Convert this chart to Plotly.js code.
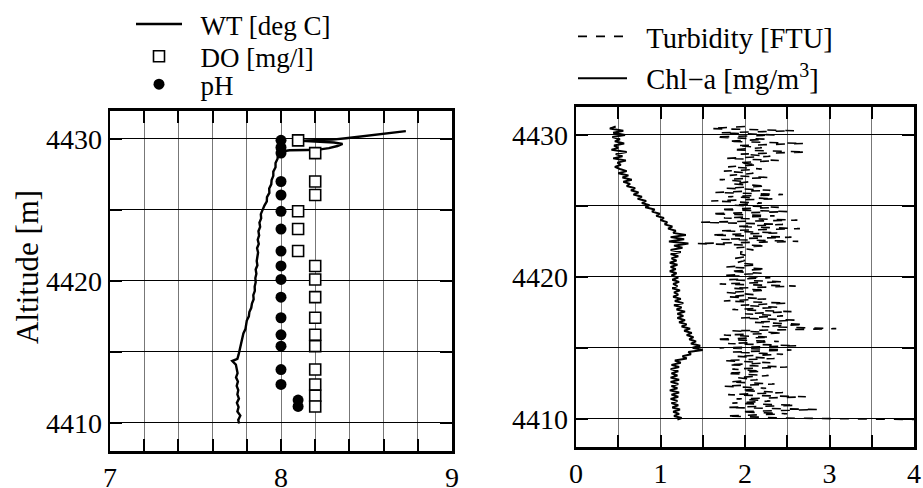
<!DOCTYPE html>
<html>
<head>
<meta charset="utf-8">
<script src="https://cdn.plot.ly/plotly-3.0.1.min.js"></script>
<style>html,body{margin:0;padding:0;background:#fff;}#chart{width:923px;height:488px;}</style>
</head>
<body>
<div id="chart"></div>
<script>
// ---------- Left panel data ----------
const wtAlt = [4409.95,4410.2,4410.5,4410.8,4411.1,4411.4,4411.7,4412.0,4412.3,4412.6,
  4412.9,4413.2,4413.5,4413.8,4414.1,4414.35,4414.5,4414.8,4415.1,4415.4,
  4415.7,4416.0,4416.3,4416.6,4416.9,4417.2,4417.5,4417.8,4418.1,4418.4,
  4418.7,4419.0,4419.3,4419.6,4419.9,4420.2,4420.5,4420.8,4421.1,4421.4,
  4421.7,4422.0,4422.3,4422.6,4422.9,4423.2,4423.5,4423.8,4424.1,4424.4,
  4424.7,4425.0,4425.3,4425.6,4425.9,4426.2,4426.5,4426.8,4427.1,4427.4,
  4427.7,4428.0,4428.3,4428.6,4428.9,4429.1,4429.2,4429.22,4429.25,4429.35,
  4429.5,4429.65,4429.75,4429.82,4429.86,4429.9,4429.95,4430.05,4430.2,4430.35,
  4430.5,4430.55];
const wtTemp = [7.755,7.75,7.762,7.745,7.752,7.742,7.754,7.745,7.75,7.741,
  7.748,7.737,7.746,7.74,7.736,7.715,7.745,7.752,7.758,7.766,
  7.77,7.776,7.78,7.792,7.795,7.80,7.812,7.815,7.826,7.83,
  7.84,7.838,7.847,7.846,7.852,7.85,7.856,7.852,7.862,7.858,
  7.862,7.866,7.86,7.870,7.864,7.872,7.868,7.878,7.874,7.884,
  7.882,7.892,7.903,7.917,7.918,7.932,7.931,7.943,7.945,7.955,
  7.955,7.968,7.968,7.98,7.982,7.995,8.05,8.15,8.22,8.28,
  8.33,8.36,8.31,8.2,8.12,8.15,8.3,8.38,8.48,8.58,
  8.68,8.73];
const doAlt = [4429.9,4429.0,4427.0,4426.05,4424.9,4423.65,4422.1,4421.05,4420.1,4418.85,4417.4,4416.2,4415.4,4413.75,4412.7,4411.9,4411.15];
const doVal = [8.1,8.2,8.2,8.2,8.1,8.1,8.1,8.2,8.2,8.2,8.2,8.2,8.2,8.2,8.2,8.2,8.2];
const phAlt = [4429.9,4429.4,4429.0,4427.0,4426.05,4424.9,4423.65,4422.1,4421.05,4420.1,4418.85,4417.4,4416.2,4415.4,4413.75,4412.7,4411.6,4411.15];
const phVal = [8.0,8.0,8.0,8.0,8.0,8.0,8.0,8.0,8.0,8.0,8.0,8.0,8.0,8.0,8.0,8.0,8.1,8.1];

// ---------- Right panel data ----------
const profAlt = [
  4430.60,4430.45,4430.30,4430.15,4430.00,4429.85,4429.70,4429.55,4429.40,4429.25,
  4429.10,4428.95,4428.80,4428.65,4428.50,4428.35,4428.20,4428.05,4427.90,4427.75,
  4427.60,4427.45,4427.30,4427.15,4427.00,4426.85,4426.70,4426.55,4426.40,4426.25,
  4426.10,4425.95,4425.80,4425.65,4425.50,4425.35,4425.20,4425.05,4424.90,4424.75,
  4424.60,4424.45,4424.30,4424.15,4424.00,4423.85,4423.70,4423.55,4423.40,4423.25,
  4423.10,4422.95,4422.80,4422.65,4422.50,4422.35,4422.20,4422.05,4421.90,4421.75,
  4421.60,4421.45,4421.30,4421.15,4421.00,4420.85,4420.70,4420.55,4420.40,4420.25,
  4420.10,4419.95,4419.80,4419.65,4419.50,4419.35,4419.20,4419.05,4418.90,4418.75,
  4418.60,4418.45,4418.30,4418.15,4418.00,4417.85,4417.70,4417.55,4417.40,4417.25,
  4417.10,4416.95,4416.80,4416.65,4416.50,4416.35,4416.20,4416.05,4415.90,4415.75,
  4415.60,4415.45,4415.30,4415.15,4415.00,4414.85,4414.70,4414.55,4414.40,4414.25,
  4414.10,4413.95,4413.80,4413.65,4413.50,4413.35,4413.20,4413.05,4412.90,4412.75,
  4412.60,4412.45,4412.30,4412.15,4412.00,4411.85,4411.70,4411.55,4411.40,4411.25,
  4411.10,4410.95,4410.80,4410.65,4410.50,4410.35,4410.20,4410.05,4409.95];
const chlVal = [
  0.47,0.40,0.56,0.44,0.58,0.43,0.52,0.46,0.57,0.45,
  0.50,0.42,0.60,0.47,0.55,0.44,0.59,0.49,0.53,0.46,
  0.52,0.60,0.50,0.62,0.55,0.66,0.56,0.64,0.60,0.70,
  0.65,0.74,0.68,0.78,0.73,0.83,0.78,0.87,0.82,0.93,
  0.90,0.99,0.95,1.04,1.00,1.08,1.05,1.14,1.09,1.18,
  1.15,1.30,1.12,1.28,1.10,1.33,1.16,1.26,1.12,1.24,
  1.12,1.21,1.13,1.19,1.11,1.20,1.12,1.18,1.11,1.19,
  1.13,1.21,1.14,1.22,1.15,1.20,1.14,1.23,1.16,1.21,
  1.15,1.24,1.17,1.27,1.16,1.25,1.19,1.29,1.20,1.27,
  1.20,1.29,1.22,1.31,1.25,1.35,1.28,1.37,1.31,1.39,
  1.34,1.42,1.36,1.47,1.38,1.50,1.33,1.36,1.26,1.31,
  1.17,1.24,1.13,1.22,1.12,1.21,1.13,1.20,1.12,1.22,
  1.12,1.21,1.13,1.20,1.11,1.22,1.13,1.21,1.12,1.20,
  1.13,1.21,1.14,1.23,1.15,1.22,1.16,1.25,1.20];
const turbVal = [
  2.00,1.60,2.58,1.72,2.35,1.65,2.25,1.80,2.70,1.90,
  2.20,1.85,2.72,1.95,2.30,1.78,2.40,1.92,2.15,1.80,
  2.20,1.75,2.10,1.82,2.28,1.70,2.05,1.85,2.25,1.78,
  2.30,1.65,2.45,1.80,2.35,1.60,2.20,1.85,2.40,1.70,
  2.50,1.60,2.35,1.75,2.62,1.48,2.45,1.90,2.65,1.70,
  2.40,1.60,2.55,1.72,2.63,1.43,2.25,1.90,2.10,1.95,
  1.95,2.05,1.88,2.00,1.90,2.15,1.78,2.25,1.82,2.20,
  1.75,2.30,1.80,2.45,1.70,2.60,1.85,2.25,1.78,2.10,
  1.80,2.25,1.75,2.50,1.95,2.40,1.85,2.55,2.00,2.45,
  1.95,2.60,2.10,2.70,2.20,3.08,1.85,2.45,1.75,2.30,
  1.65,2.40,1.80,2.62,1.70,2.55,1.85,2.45,1.90,2.35,
  1.75,2.30,1.80,2.50,1.85,2.20,1.78,2.28,1.90,2.15,
  1.82,2.35,1.75,2.25,1.95,2.45,1.80,2.72,1.90,2.30,
  1.85,2.60,1.80,2.85,1.95,2.50,1.78,2.45,4.00];

// ---------- Ticks ----------
const xLeftTickVals = [7,7.2,7.4,7.6,7.8,8,8.2,8.4,8.6,8.8,9];
const xLeftTickText = ['7','','','','','8','','','','','9'];
const xRightTickVals = [0,0.5,1,1.5,2,2.5,3,3.5,4];
const xRightTickText = ['0','','1','','2','','3','','4'];
const yTickVals = [4410,4415,4420,4425,4430];
const yTickText = ['4410','','4420','','4430'];

const FONT = 'Liberation Serif';
const traces = [
  {x: wtTemp, y: wtAlt, mode:'lines', name:'\u2002WT [deg C]', line:{color:'#000', width:2.4}, xaxis:'x', yaxis:'y', legend:'legend'},
  {x: doVal, y: doAlt, mode:'markers', name:'\u2002DO [mg/l]', marker:{symbol:'square', size:11, color:'#fff', line:{color:'#000', width:1.6}}, xaxis:'x', yaxis:'y', legend:'legend2'},
  {x: phVal, y: phAlt, mode:'markers', name:'\u2002pH', marker:{symbol:'circle', size:11, color:'#000'}, xaxis:'x', yaxis:'y', legend:'legend3'},
  {x: turbVal, y: profAlt, mode:'lines', name:'\u2002Turbidity [FTU]', line:{color:'#000', width:1.6, dash:'dash'}, xaxis:'x2', yaxis:'y2', legend:'legend4'},
  {x: chlVal, y: profAlt, mode:'lines', name:'\u2002Chl\u2212a [mg/m<sup>3</sup>]', line:{color:'#000', width:2}, xaxis:'x2', yaxis:'y2', legend:'legend5'}
];

const axCommon = {
  showline:true, linecolor:'#000', linewidth:2.5, mirror:'allticks',
  ticks:'inside', ticklen:12, tickwidth:2, tickcolor:'#000',
  showgrid:true, zeroline:false, tickmode:'array',
  tickfont:{family:FONT, size:28, color:'#000'}, fixedrange:true
};
const W = 923, H = 488;
function leg(xpx, ypx, iw, fs){
  return {x:xpx/W, y:1-ypx/H, xanchor:'left', yanchor:'middle', bgcolor:'rgba(0,0,0,0)',
    font:{family:FONT, size:fs, color:'#000'}, itemwidth:iw, tracegroupgap:0};
}
const layout = {
  width:W, height:H, margin:{l:0,r:0,t:0,b:0}, paper_bgcolor:'#fff', plot_bgcolor:'#fff',
  font:{family:FONT, color:'#000'},
  showlegend:true,
  xaxis: Object.assign({}, axCommon, {domain:[110/W, 452/W], range:[7,9], tickvals:xLeftTickVals, ticktext:xLeftTickText, gridcolor:'#777', gridwidth:1, anchor:'y'}),
  yaxis: Object.assign({}, axCommon, {domain:[1-451/H, 1-109/H], range:[4408,4432], tickvals:yTickVals, ticktext:yTickText, gridcolor:'#000', gridwidth:1, anchor:'x'}),
  xaxis2: Object.assign({}, axCommon, {domain:[576/W, 914/W], range:[0,4], tickvals:xRightTickVals, ticktext:xRightTickText, gridcolor:'#777', gridwidth:1, anchor:'y2'}),
  yaxis2: Object.assign({}, axCommon, {domain:[1-447/H, 1-105/H], range:[4408,4432], tickvals:yTickVals, ticktext:yTickText, gridcolor:'#000', gridwidth:1, anchor:'x2'}),
  legend: leg(131, 22.5, 46, 27),
  legend2: leg(131, 55, 46, 27),
  legend3: leg(131, 83, 46, 27),
  legend4: leg(573, 35, 49, 28.5),
  legend5: leg(573, 77, 49, 28.5),
  annotations: [
    {text:'Altitude [m]', textangle:-90, xref:'paper', yref:'paper', x:28/W, y:1-266/H, xanchor:'center', yanchor:'middle', showarrow:false,
     font:{family:FONT, size:31, color:'#000'}}
  ]
};
Plotly.newPlot('chart', traces, layout, {displayModeBar:false, staticPlot:true});
</script>
</body>
</html>
